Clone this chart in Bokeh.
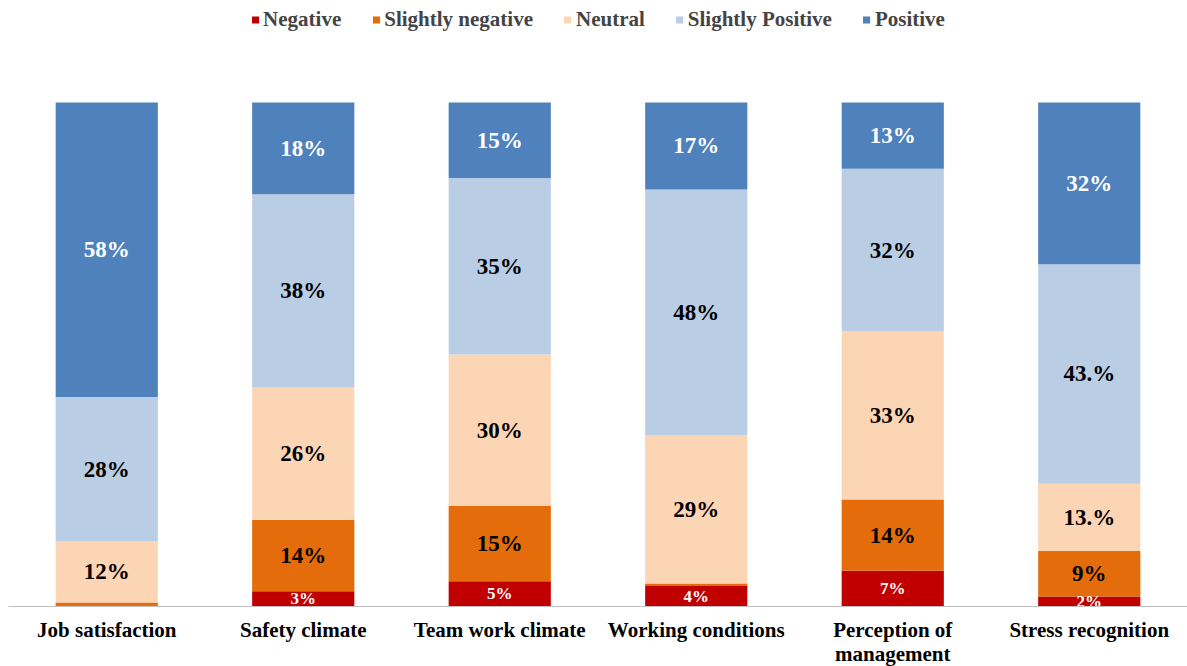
from bokeh.plotting import figure
from bokeh.models import ColumnDataSource, FactorRange, Range1d, Legend, LegendItem
from bokeh.core.properties import value
from bokeh.embed import file_html
from bokeh.resources import INLINE

categories = ["Job satisfaction", "Safety climate", "Team work climate",
              "Working conditions", "Perception of\nmanagement", "Stress recognition"]
series_names = ["Negative", "Slightly negative", "Neutral", "Slightly Positive", "Positive"]

negative = [0, 3, 5, 4, 7, 2]
slightly_negative = [0.8, 14, 15, 0.5, 14, 9]
neutral = [12, 26, 30, 29, 33, 13.3]
slightly_positive = [28.5, 38, 35, 48, 32, 43.4]
positive = [58, 18, 15, 17, 13, 32]

negative_labels = ["", "3%", "5%", "4%", "7%", "2%"]
slightly_negative_labels = ["", "14%", "15%", "", "14%", "9%"]
neutral_labels = ["12%", "26%", "30%", "29%", "33%", "13.%"]
slightly_positive_labels = ["28%", "38%", "35%", "48%", "32%", "43.%"]
positive_labels = ["58%", "18%", "15%", "17%", "13%", "32%"]

colors = ["#C00000", "#E46C0A", "#FCD5B5", "#B9CDE5", "#4F81BD"]
label_colors = ["white", "black", "black", "black", "white"]

series = [negative, slightly_negative, neutral, slightly_positive, positive]
labels = [negative_labels, slightly_negative_labels, neutral_labels,
          slightly_positive_labels, positive_labels]

# 100% stacked: normalise each category to its total
totals = [sum(s[i] for s in series) for i in range(len(categories))]
norm = [[s[i] / totals[i] * 100 for i in range(len(categories))] for s in series]

data = {"cat": categories}
for name, vals in zip(series_names, norm):
    data[name] = vals
source = ColumnDataSource(data)

FONT = "Liberation Serif"

p = figure(x_range=FactorRange(*categories, range_padding=0),
           y_range=Range1d(0, 120.24),
           frame_width=1179, frame_height=606,
           min_border_left=8, min_border_right=0, min_border_top=0, min_border_bottom=0,
           output_backend="svg", toolbar_location=None)

renderers = p.vbar_stack(series_names, x="cat", width=0.52, source=source,
                         color=colors, line_color=None)

# value labels
big = {"cat": [], "y": [], "text": [], "color": []}
small = {"cat": [], "y": [], "text": [], "color": []}
for k in range(len(series)):
    for i, c in enumerate(categories):
        base = sum(norm[j][i] for j in range(k))
        mid = base + norm[k][i] / 2
        t = labels[k][i]
        if not t:
            continue
        d = small if k == 0 else big
        d["cat"].append(c)
        d["y"].append(mid)
        d["text"].append(t)
        d["color"].append(label_colors[k])

p.text(x="cat", y="y", text="text", source=ColumnDataSource(big),
       text_color="color", text_font=value(FONT), text_font_style="bold",
       text_font_size="23px", text_align="center", text_baseline="middle")
p.text(x="cat", y="y", text="text", source=ColumnDataSource(small),
       text_color="color", text_font=value(FONT), text_font_style="bold",
       text_font_size="17px", text_align="center", text_baseline="middle")

legend = Legend(items=[LegendItem(label=n, renderers=[r]) for n, r in zip(series_names, renderers)],
                orientation="horizontal", location="top_center",
                label_text_font=FONT, label_text_font_style="bold",
                label_text_font_size="21px", glyph_width=9, glyph_height=9,
                label_standoff=4, spacing=30, padding=0, margin=7,
                border_line_color=None, background_fill_alpha=0)
p.add_layout(legend, "center")

p.yaxis.visible = False
p.xgrid.grid_line_color = None
p.ygrid.grid_line_color = None
p.outline_line_color = None
p.xaxis.axis_line_color = "#BFBFBF"
p.xaxis.major_tick_line_color = None
p.xaxis.minor_tick_line_color = None
p.xaxis.major_label_text_font = FONT
p.xaxis.major_label_text_font_style = "bold"
p.xaxis.major_label_text_font_size = "21px"
p.xaxis.major_label_text_color = "black"
p.xaxis.major_label_text_line_height = 1.0
p.xaxis.major_label_standoff = 5

open("out.html", "w").write(file_html(p, INLINE))
